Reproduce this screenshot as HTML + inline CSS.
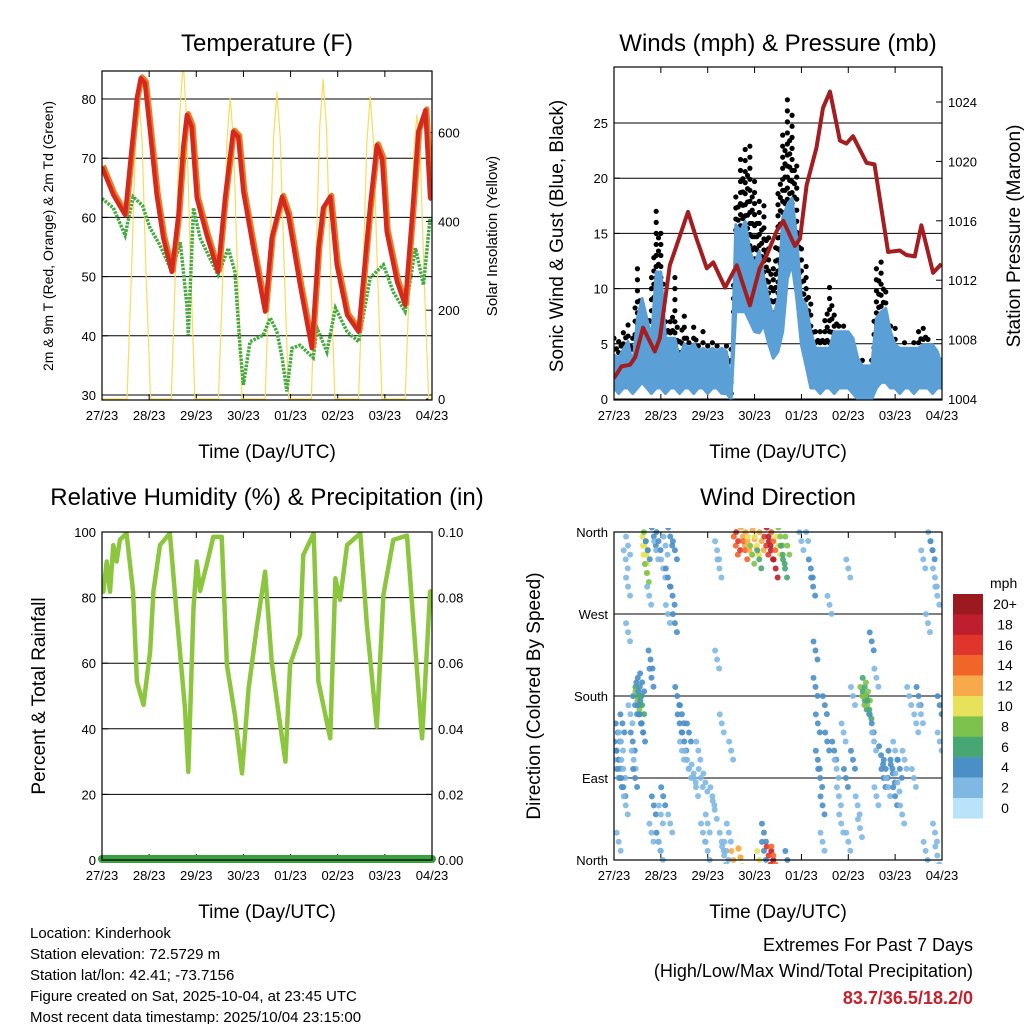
<!DOCTYPE html>
<html><head><meta charset="utf-8"><style>
body{margin:0;background:#fff}
svg{display:block;font-family:"Liberation Sans",sans-serif}
</style></head><body>
<svg id="s" width="1024" height="1024" viewBox="0 0 1024 1024" xmlns="http://www.w3.org/2000/svg">
<defs>
<clipPath id="c1"><rect x="102" y="71" width="330" height="329"/></clipPath>
<clipPath id="c2"><rect x="614" y="67" width="328" height="333"/></clipPath>
<clipPath id="c3"><rect x="102" y="532" width="330" height="328"/></clipPath>
<clipPath id="c4"><rect x="614" y="528" width="328" height="336"/></clipPath>
</defs>
<g id="g"></g>
<g font-size="15" fill="#000">
<text x="30" y="938">Location: Kinderhook</text>
<text x="30" y="959">Station elevation: 72.5729 m</text>
<text x="30" y="980">Station lat/lon: 42.41; -73.7156</text>
<text x="30" y="1001">Figure created on Sat, 2025-10-04, at 23:45 UTC</text>
<text x="30" y="1022">Most recent data timestamp: 2025/10/04 23:15:00</text>
</g>
<g text-anchor="end">
<text x="973" y="951" font-size="18">Extremes For Past 7 Days</text>
<text x="973" y="977" font-size="18">(High/Low/Max Wind/Total Precipitation)</text>
<text x="973" y="1004" font-size="18" font-weight="bold" fill="#c8202a">83.7/36.5/18.2/0</text>
</g>
</svg>
<script>
const dayLabels=["27/23","28/23","29/23","30/23","01/23","02/23","03/23","04/23"];
const tempT=[0,0.24,0.49,0.63,0.74,0.82,0.91,1.02,1.16,1.3,1.48,1.62,1.72,1.8,1.9,2.01,2.22,2.46,2.61,2.78,2.89,3.0,3.21,3.46,3.6,3.82,3.95,4.2,4.45,4.59,4.69,4.84,4.98,5.2,5.44,5.69,5.83,5.94,6.04,6.26,6.43,6.58,6.71,6.86,6.96,7.0];
const tempV=[68.5,63.8,60.4,71.7,80.2,83.5,82.7,74.5,63.8,56.5,50.8,60.4,71.7,77.3,75.3,63.3,57,50.8,63.3,74.5,73.6,64.3,54.8,44.1,56.5,63.5,60.4,48.6,37.9,54.8,61.6,63.5,52,43.5,40.7,62.1,72.2,70,57.6,49.1,45.2,60.4,74.5,78.1,63.3,63];
const dewT=[0,0.24,0.49,0.66,0.86,1.02,1.23,1.48,1.66,1.8,1.83,1.94,2.08,2.46,2.68,2.82,2.93,3.0,3.14,3.42,3.57,3.71,3.82,3.92,4.03,4.2,4.48,4.56,4.77,4.95,5.2,5.44,5.69,5.97,6.18,6.43,6.65,6.82,6.96];
const dewV=[63.2,61.6,57,63.5,62,58.2,55.3,50.8,55.8,45.2,40.1,61.6,56.5,50.3,54.8,50.8,37.9,31.7,39,40.1,43,40.7,36.3,30.6,37.9,38.4,36.3,41.3,37.3,44.7,40.7,39,49.8,52,47.4,44.1,54.8,48.6,59.9];
const solarT=[0,0.53,0.63,0.71,0.78,0.85,0.93,1.03,1.47,1.57,1.65,1.72,1.79,1.87,1.97,2.47,2.57,2.65,2.72,2.79,2.87,2.97,3.46,3.56,3.64,3.71,3.78,3.86,3.96,4.44,4.54,4.62,4.69,4.76,4.84,4.94,5.44,5.54,5.62,5.69,5.76,5.84,5.94,6.43,6.53,6.61,6.68,6.75,6.83,6.93,7.0];
const solarV=[0,0,300,580,680,580,300,0,0,330,640,760,640,330,0,0,300,580,678,580,300,0,0,310,590,690,590,310,0,0,320,615,720,615,320,0,0,300,580,681,580,300,0,0,285,550,640,550,285,0,0];
const windHi=[4,3.7,4.5,5.2,3,7.3,9.1,7.3,5.5,11.5,11.5,5.5,5.5,5.5,3.7,5,4.6,5,4.3,4.6,4.3,4.6,4.3,4.6,4.3,1,15.8,15.2,16.1,13.4,12.2,13.4,11,9.1,7.3,9.1,16.4,17.6,18.2,14.6,9.1,8.5,6.1,4.6,4.6,4.6,4.6,6.1,6.1,6.1,6.1,5.5,3.7,3,3,3,7.3,7.9,8.2,6.1,4.9,4.6,4.6,4.6,4.6,4.6,4.9,4.9,4.9,4.3,3];
const windLo=[1,0.5,1,1,0.5,1,1.5,1,0.5,1,1,0.5,1,1,0.5,1,1,0.5,1,1,0.5,1,1,0.5,0.5,0,7.9,7.9,7.9,7,6.1,6,6.7,5,3.7,4.3,6.1,10.9,12.2,9.1,4.9,3,1,1,0.5,1,1,0.5,1,1,1,0.5,0,0,0,0,1,1.5,1.5,1,1,0.5,1,1,0.5,1,1,1,0.5,1,1];
const gust=[5.5,6,6,7,6,12.4,9.1,7.3,11,17.6,15.8,7.6,7.3,11,6.1,7.9,5.5,6.7,5.2,6.1,4.9,5.5,4.9,4.6,5.2,4.5,19.1,22.1,23,23.3,19.7,18.2,17.6,15.2,12.2,18.8,24.8,27.5,26.3,21.2,14,12.2,9.1,6.7,6.7,7.3,11,8.5,7,6.7,6.4,5.2,3.7,3.7,2.5,3.7,12.4,12.4,10.3,6.7,6.4,4.9,5.5,4.9,5.2,6.1,7,6.1,4.9,4.3,4];
const presT=[0,0.16,0.34,0.45,0.62,0.87,0.98,1.19,1.44,1.58,1.76,1.98,2.12,2.37,2.62,2.9,3.11,3.26,3.47,3.61,3.86,3.97,4.11,4.32,4.46,4.61,4.82,4.96,5.1,5.39,5.56,5.85,6.1,6.24,6.42,6.56,6.81,6.99];
const presV=[1005.4,1006.2,1006.3,1006.8,1008.8,1007.2,1008.1,1013,1015.3,1016.6,1014.8,1012.8,1013.2,1011.5,1013,1010.3,1012.8,1013.7,1015.3,1016,1014.3,1014.8,1018.4,1020.9,1023.6,1024.7,1021.4,1021.2,1021.7,1019.9,1019.8,1013.9,1014,1013.7,1013.6,1015.7,1012.5,1013.1];
const rhT=[0,0.03,0.1,0.17,0.24,0.31,0.38,0.52,0.66,0.74,0.88,1.02,1.09,1.23,1.44,1.59,1.76,1.83,1.94,2.01,2.08,2.22,2.36,2.54,2.65,2.82,2.97,3.11,3.28,3.46,3.6,3.74,3.89,3.99,4.2,4.27,4.49,4.59,4.84,4.95,5.05,5.2,5.48,5.62,5.83,5.97,6.18,6.47,6.61,6.79,6.96,7.0];
const rhV=[85,81.8,91,81.8,96,91,97.6,99.6,81.8,54.4,47.3,63.5,81.8,96,99.6,73.7,46.2,26.9,76.8,91,82,90,98.5,98.5,59.5,44.2,26.4,52.3,70.6,87.9,60.5,45.2,30,59.5,68.6,93,99.6,54.4,37.1,85.9,79.3,96,99.6,71.6,40.6,80.8,97.6,98.9,71.6,37.1,81.8,82];
const dirDay=[0.05,0.05,0.08,0.1,0.12,0.15,0.18,0.2,0.2,0.25,0.25,0.3,0.3,0.3,0.1,0.35,0.4,0.42,0.45,0.45,0.5,0.5,0.52,0.55,0.55,0.58,0.6,0.6,0.62,0.65,0.66,0.67,0.68,0.7,0.72,0.75,0.78,0.8,0.8,0.85,0.85,0.9,0.95,0.95,1.0,1.0,1.05,1.05,1.1,1.15,1.15,1.2,1.2,1.25,1.3,1.3,1.35,1.4,1.45,1.45,1.5,1.55,1.6,1.6,1.7,1.75,1.8,1.85,1.9,1.95,2.0,2.0,2.1,2.15,2.2,2.2,2.25,2.3,2.3,2.35,2.4,2.45,2.5,2.55,2.6,2.65,2.7,2.75,2.8,2.85,2.9,2.95,3.0,3.05,3.1,3.15,3.2,3.2,3.25,3.3,3.3,3.35,3.4,3.4,3.45,3.5,3.55,3.6,3.65,3.7,3.7,3.4,3.1,2.7,4.0,4.1,4.2,4.25,4.3,4.3,4.35,4.35,4.4,4.45,4.45,4.5,4.55,4.6,4.7,4.75,4.8,4.85,4.9,4.95,5.0,5.0,5.1,5.1,5.2,5.25,5.3,5.35,5.35,5.4,5.42,5.45,5.5,5.5,5.55,5.6,5.6,5.7,5.75,5.8,5.85,5.9,5.95,6.0,6.0,6.05,6.1,6.15,6.2,6.3,6.4,6.45,6.5,6.55,6.6,6.7,6.75,6.8,6.85,6.9,6.95,6.95,6.85,6.65,6.9];
const dirDeg=[120,100,140,110,90,130,150,100,80,60,330,345,250,300,20,160,130,110,90,170,180,175,185,190,160,150,195,170,140,345,335,325,350,315,340,290,220,200,30,60,355,340,350,20,10,50,320,70,345,270,310,355,40,290,260,340,180,150,120,160,130,110,100,140,95,80,120,90,30,85,10,40,70,55,220,340,320,150,20,5,10,30,120,0,345,350,2,355,340,350,345,335,352,345,330,350,10,30,345,355,5,340,350,0,320,345,355,335,320,345,0,5,0,3,350,360,320,300,230,190,150,110,90,60,20,170,130,280,120,100,70,40,140,90,20,320,110,180,60,35,180,175,190,170,185,165,150,240,130,70,200,115,90,100,80,110,95,120,70,85,100,50,110,180,90,150,180,160,330,260,350,340,310,290,130,170,30,10,5];
const dirSpd=[3,2,3,4,3,2,3,2,3,1,1,1,1,1,1,2,3,2,3,4,6,8,4,3,4,4,4,6,3,9,10,10,8,8,3,2,4,3,2,3,3,2,3,3,2,2,2,3,1,1,3,3,2,4,3,3,3,3,2,4,3,2,2,3,2,2,2,2,2,1,2,2,2,2,1,1,1,1,2,1,2,1,2,12,14,16,10,12,14,12,10,8,12,10,6,12,4,4,16,18,16,18,14,18,18,10,8,6,6,8,4,14,10,12,2,2,3,4,3,4,4,3,4,3,2,3,4,1,4,2,2,1,2,3,1,1,3,2,2,1,8,6,6,7,8,5,4,3,2,2,1,3,4,3,2,3,4,2,3,2,3,1,2,1,2,2,3,2,1,2,2,3,2,2,2,3,2,2,1];
const barLabels=["20+","18","16","14","12","10","8","6","4","2","0"];
const barColors=["#9b1a1f","#be1e2d","#e0352a","#f26529","#f8a94a","#e8e25a","#7ec24e","#47a772","#4a8fc6","#7fb8e3","#b8e3f8"];

const NS="http://www.w3.org/2000/svg";
const G=document.getElementById('g');
function el(tag,attrs,parent,txt){const e=document.createElementNS(NS,tag);for(const k in attrs)e.setAttribute(k,attrs[k]);if(txt!==undefined)e.textContent=txt;(parent||G).appendChild(e);return e;}
function pathD(ts,vs,xf,yf){return ts.map((t,i)=>(i?'L':'M')+xf(t).toFixed(1)+','+yf(vs[i]).toFixed(1)).join('');}

function frame(x0,y0,x1,y1,xf,name,title,titleY,xtitleY){
  const g=el('g',{});
  
  
  dayLabels.forEach((l,i)=>{const x=xf(i);
    el('line',{x1:x,x2:x,y1:y1,y2:y1-6,stroke:'#000','stroke-width':1},g);
    el('line',{x1:x,x2:x,y1:y0,y2:y0+6,stroke:'#000','stroke-width':1},g);
    const tx=el('text',{x:x,y:y1+20,'font-size':13,'text-anchor':'middle'},g,l);
    
    
  });
  const tt=el('text',{x:(x0+x1)/2,y:titleY,'font-size':24,'text-anchor':'middle'},g,title);
  
  
  const xt=el('text',{x:(x0+x1)/2,y:xtitleY,'font-size':19,'text-anchor':'middle'},g,'Time (Day/UTC)');
  
  
  return g;
}
function border(x0,y0,x1,y1,g){el('rect',{x:x0,y:y0,width:x1-x0,height:y1-y0,fill:'none',stroke:'#000','stroke-width':1.2},g);}
function yAxis(g,vals,labels,yf,x,side,grid,x0,x1){
  vals.forEach((v,i)=>{const y=yf(v);
    if(grid) el('line',{x1:x0,x2:x1,y1:y,y2:y,stroke:'#000','stroke-width':1},g);
    el('line',{x1:x,x2:x+(side<0?6:-6),y1:y,y2:y,stroke:'#000'},g);
    const t=el('text',{x:x+(side<0?-6:6),y:y+5,'font-size':13,'text-anchor':side<0?'end':'start'},g,labels[i]);
    
    
  });
}
function vtitle(g,x,y,txt,size,name){const t=el('text',{x:x,y:y,'font-size':size,'text-anchor':'middle',transform:`rotate(-90 ${x} ${y})`},g,txt);
  
  }

// ---- Panel 1: Temperature
{const x0=102,x1=432,y0=71,y1=400;
 const xf=d=>x0+d*(x1-x0)/7, yf=v=>395-(v-30)*5.92, ys=v=>399-v*0.444;
 const g=frame(x0,y0,x1,y1,xf,'temperature-panel','Temperature (F)',51,458);
 yAxis(g,[30,40,50,60,70,80],['30','40','50','60','70','80'],yf,x0,-1,true,x0,x1);
 yAxis(g,[0,200,400,600],['0','200','400','600'],ys,x1,1,false);
 const c=el('g',{'clip-path':'url(#c1)'},g);
 const sol=el('path',{d:pathD(solarT,solarV,xf,ys),fill:'none',stroke:'#f8dc5a','stroke-width':1.2,'stroke-linejoin':'round'},c);
 
 
 const dew=el('path',{d:pathD(dewT,dewV,xf,yf),fill:'none',stroke:'#44aa3f','stroke-width':3.5,'stroke-dasharray':'2.5 1.2'},c);
 
 
 const o=el('path',{d:pathD(tempT,tempV,xf,yf),fill:'none',stroke:'#f07a22','stroke-width':5,'stroke-linejoin':'round',transform:'translate(1.5,-1.5)'},c);
 
 
 const r=el('path',{d:pathD(tempT,tempV,xf,yf),fill:'none',stroke:'#d42a1e','stroke-width':4.5,'stroke-linejoin':'round'},c);
 
 
 border(x0,y0,x1,y1,g);
 vtitle(g,53,236,'2m & 9m T (Red, Orange) & 2m Td (Green)',14,'y-axis-title');
 vtitle(g,497,236,'Solar Insolation (Yellow)',15,'y2-axis-title');
}
// ---- Panel 2: Winds
{const x0=614,x1=942,y0=67,y1=400;
 const xf=d=>x0+d*(x1-x0)/7, yf=v=>399-v*11.04, yp=p=>399-(p-1004)*14.85;
 const g=frame(x0,y0,x1,y1,xf,'winds-panel','Winds (mph) & Pressure (mb)',51,458);
 yAxis(g,[0,5,10,15,20,25],['0','5','10','15','20','25'],yf,x0,-1,true,x0,x1);
 yAxis(g,[1004,1008,1012,1016,1020,1024],['1004','1008','1012','1016','1020','1024'],yp,x1,1,false);
 const c=el('g',{'clip-path':'url(#c2)'},g);
 const wt=windHi.map((_,i)=>i*0.1);
 const gd=el('g',{},c);
 
 
 wt.forEach((t,i)=>{
   const nh=i<wt.length-1?windHi[i+1]:windHi[i], ng=i<wt.length-1?gust[i+1]:gust[i];
   for(let v=windHi[i]-0.5;v<=gust[i];v+=1.0){const d=el('circle',{cx:xf(t),cy:yf(v),r:2.6,fill:'#000'},gd);
   
   }
   const mh=(windHi[i]+nh)/2, mg=(gust[i]+ng)/2*0.9;
   for(let v=mh-0.5;v<=mg;v+=1.2){const d2=el('circle',{cx:xf(t+0.05),cy:yf(v),r:2.6,fill:'#000'},gd);
   
   }});
 const area=pathD(wt,windHi,xf,yf)+pathD(wt.slice().reverse(),windLo.slice().reverse(),xf,yf).replace('M','L')+'Z';
 const w=el('path',{d:area,fill:'#5a9fd6',stroke:'#5a9fd6','stroke-width':3,'stroke-linejoin':'round'},c);
 
 
 const p=el('path',{d:pathD(presT,presV,xf,yp),fill:'none',stroke:'#a31d21','stroke-width':4,'stroke-linejoin':'round'},c);
 
 
 border(x0,y0,x1,y1,g);
 vtitle(g,563,236,'Sonic Wind & Gust (Blue, Black)',19,'y-axis-title');
 vtitle(g,1020,236,'Station Pressure (Maroon)',19,'y2-axis-title');
}
// ---- Panel 3: RH
{const x0=102,x1=432,y0=532,y1=860;
 const xf=d=>x0+d*(x1-x0)/7, yf=v=>860-v*3.28;
 const g=frame(x0,y0,x1,y1,xf,'humidity-panel','Relative Humidity (%) & Precipitation (in)',505,918);
 yAxis(g,[0,20,40,60,80,100],['0','20','40','60','80','100'],yf,x0,-1,true,x0,x1);
 yAxis(g,[0,20,40,60,80,100],['0.00','0.02','0.04','0.06','0.08','0.10'],yf,x1,1,false);
 const c=el('g',{'clip-path':'url(#c3)'},g);
 const rh=el('path',{d:pathD(rhT,rhV,xf,yf),fill:'none',stroke:'#8cc63f','stroke-width':4.5,'stroke-linejoin':'round'},c);
 
 
 const pr=el('line',{x1:x0,x2:x1,y1:859,y2:859,stroke:'#3aa040','stroke-width':8,'stroke-linecap':'round'},g);
 
 
 border(x0,y0,x1,y1,g);
 vtitle(g,45,696,'Percent & Total Rainfall',19,'y-axis-title');
}
// ---- Panel 4: Wind direction
{const x0=614,x1=942,y0=532,y1=860;
 const xf=d=>x0+d*(x1-x0)/7, yf=v=>860-v*328/360;
 const g=frame(x0,y0,x1,y1,xf,'wind-direction-panel','Wind Direction',505,918);
 yAxis(g,[0,90,180,270,360],['North','East','South','West','North'],yf,x0,-1,true,x0,x1);
 const colorFor=s=>barColors[10-Math.min(10,Math.round(s/2))];
 const c=el('g',{'clip-path':'url(#c4)'},g);
 const offs=[[0,0],[2,9],[-2,-9]];
 dirDay.forEach((d,i)=>{offs.forEach(o=>{
   const p=el('circle',{cx:xf(d)+o[0],cy:yf(dirDeg[i])+o[1],r:3,fill:colorFor(dirSpd[i]),opacity:0.9},c);
   
   });});
 border(x0,y0,x1,y1,g);
 vtitle(g,540,696,'Direction (Colored By Speed)',19,'y-axis-title');
 const lg=el('g',{});
 
 
 el('text',{x:990,y:588,'font-size':14},lg,'mph');
 barLabels.forEach((l,i)=>{const y=594+i*20.4;
   const r=el('rect',{x:953,y:y,width:30,height:20.6,fill:barColors[i]},lg);
   
   
   const t=el('text',{x:1005,y:y+15,'font-size':14,'text-anchor':'middle'},lg,l);
   
   });
}
</script>
</body></html>
